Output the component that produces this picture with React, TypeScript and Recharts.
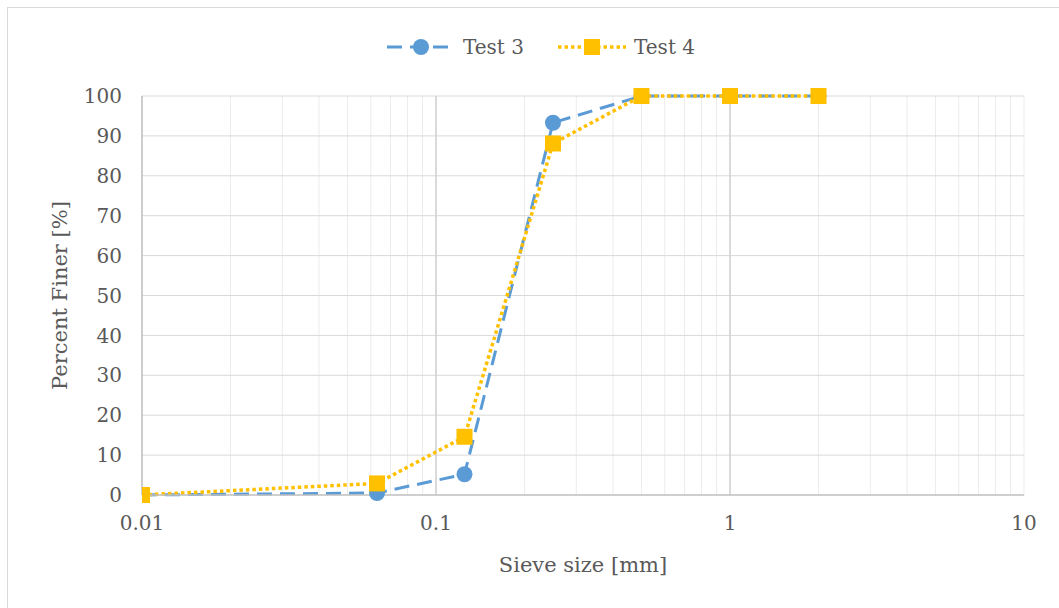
import { LineChart, Line, XAxis, YAxis, CartesianGrid, Legend, ReferenceLine } from "recharts";

// sieve sizes in mm
const sizes = [0.01, 0.063, 0.125, 0.25, 0.5, 1, 2];
const test3 = [0, 0.5, 5.2, 93.3, 100, 100, 100];
const test4 = [0, 2.9, 14.6, 88.1, 100, 100, 100];

const xMajor = [0.01, 0.1, 1, 10];
const yTicks = [0, 10, 20, 30, 40, 50, 60, 70, 80, 90, 100];

// log grid: 1..9 in each decade
const xGrid: number[] = [];
[0.01, 0.1, 1].forEach((d) => {
  for (let k = 1; k < 10; k++) xGrid.push(+(d * k).toFixed(4));
});
xGrid.push(10);

const data3 = sizes.map((s, i) => ({ size: s, value: test3[i] }));
const data4 = sizes.map((s, i) => ({ size: s, value: test4[i] }));

const BLUE = "#5b9bd5";
const GOLD = "#ffc000";
const TEXT = "#595959";
const FONT = "'DejaVu Serif', serif";

const Square = (props: any) => {
  const { cx, cy } = props;
  if (cx == null || cy == null) return null;
  return <rect x={cx - 8} y={cy - 8} width={16} height={16} fill={GOLD} />;
};

const LegendContent = () => (
  <div style={{ display: "flex", justifyContent: "center", alignItems: "center", gap: 34, marginLeft: 58, paddingTop: 5, fontFamily: FONT, fontSize: 20, color: TEXT }}>
    <div style={{ display: "flex", alignItems: "center", gap: 8 }}>
      <svg width={68} height={20}>
        <line x1={0} y1={10} x2={68} y2={10} stroke={BLUE} strokeWidth={3} strokeDasharray="15 8" />
        <circle cx={34} cy={10} r={8} fill={BLUE} />
      </svg>
      <span>Test 3</span>
    </div>
    <div style={{ display: "flex", alignItems: "center", gap: 8 }}>
      <svg width={68} height={20}>
        <line x1={0} y1={10} x2={68} y2={10} stroke={GOLD} strokeWidth={3.5} strokeDasharray="3.5 3" />
        <rect x={26} y={2} width={16} height={16} fill={GOLD} />
      </svg>
      <span>Test 4</span>
    </div>
  </div>
);

export default function App() {
  return (
    <div style={{ position: "fixed", left: 0, top: 0, width: 1059, height: 608, background: "#fff", overflow: "hidden" }}>
      <div style={{ position: "absolute", left: 7, top: 7, width: 1100, height: 700, border: "1px solid #d9d9d9" }} />
      <LineChart width={1059} height={608} margin={{ top: 30, right: 35, bottom: 30, left: 0 }} style={{ position: "absolute", left: 0, top: 0 }}>
        <CartesianGrid stroke="#ececec" strokeWidth={1} horizontal={false} />
        <XAxis
          type="number"
          dataKey="size"
          scale="log"
          domain={[0.01, 10]}
          ticks={xGrid}
          allowDataOverflow
          interval={0}
          tickFormatter={(v: number) => (xMajor.includes(v) ? String(v) : "")}
          tickLine={false}
          tickSize={0}
          tickMargin={21}
          height={83}
          axisLine={{ stroke: "#bfbfbf", strokeWidth: 1.5 }}
          tick={{ fill: TEXT, fontSize: 20, fontFamily: FONT }}
          label={{ value: "Sieve size [mm]", position: "insideBottom", offset: 6, fill: TEXT, fontSize: 21, fontFamily: FONT }}
        />
        <YAxis
          type="number"
          domain={[0, 100]}
          ticks={yTicks}
          interval={0}
          tickLine={false}
          tickSize={0}
          tickMargin={20}
          width={142}
          axisLine={{ stroke: "#bfbfbf", strokeWidth: 1.5 }}
          tick={{ fill: TEXT, fontSize: 20, fontFamily: FONT }}
          label={{ value: "Percent Finer [%]", angle: -90, position: "insideLeft", offset: 60, fill: TEXT, fontSize: 21, fontFamily: FONT, style: { textAnchor: "middle" } }}
        />
        {yTicks.slice(1).map((t) => (
          <ReferenceLine key={"y" + t} y={t} stroke="#d9d9d9" strokeWidth={1} />
        ))}
        {[0.1, 1].map((t) => (
          <ReferenceLine key={"x" + t} x={t} stroke="#d0d0d0" strokeWidth={1.5} />
        ))}
        <Legend verticalAlign="top" height={66} content={LegendContent} />
        <Line
          data={data3}
          dataKey="value"
          name="Test 3"
          stroke={BLUE}
          strokeWidth={3}
          strokeDasharray="15 8"
          dot={{ r: 8, fill: BLUE, stroke: BLUE, strokeWidth: 0, strokeDasharray: "0" }}
          isAnimationActive={false}
        />
        <Line
          data={data4}
          dataKey="value"
          name="Test 4"
          stroke={GOLD}
          strokeWidth={3.5}
          strokeDasharray="3.5 3"
          dot={<Square />}
          isAnimationActive={false}
        />
      </LineChart>
    </div>
  );
}
